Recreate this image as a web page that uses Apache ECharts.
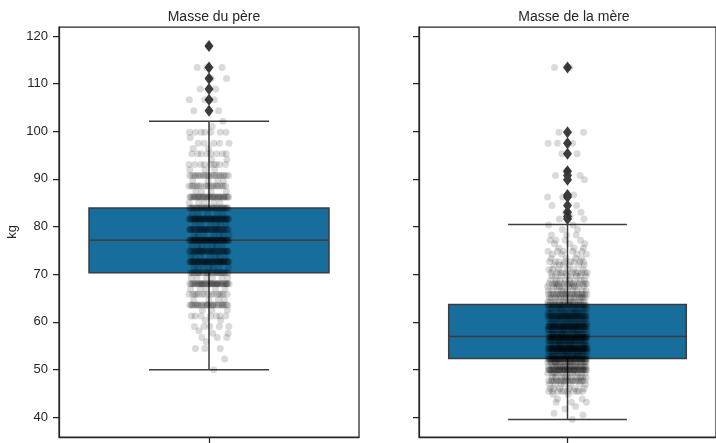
<!DOCTYPE html>
<html>
<head>
<meta charset="utf-8">
<script src="https://cdn.jsdelivr.net/npm/echarts@6/dist/echarts.min.js"></script>
<style>
html,body{margin:0;padding:0;background:#fff;}
#chart{width:716px;height:443px;}
</style>
</head>
<body>
<div id="chart"></div>
<script>
// ---------- data (kg) ----------
const panelTitles = ['Masse du père', 'Masse de la mère'];
const yAxisName = 'kg';
const yTicks = [40, 50, 60, 70, 80, 90, 100, 110, 120];

// box stats: [lower whisker, Q1, median, Q3, upper whisker]
const fatherBox = [49.9, 70.3, 77.1, 83.9, 102.1];
const motherBox = [39.5, 52.3, 56.9, 63.6, 80.4];

const fatherFliers = [104.3, 106.6, 108.9, 111.1, 113.4, 117.9];
const motherFliers = [113.4, 99.8, 97.5, 95.3, 91.6, 90.7, 89.8, 86.6, 86.2, 84.4, 83.0, 82.1, 81.6];

// strip points: observed value levels and number of points at each level
const fatherLevels = [49.9, 52.2, 54.4, 55.8, 56.7, 57.6, 58.1, 59.0, 60.3, 61.2, 62.4, 63.5, 64.6, 65.8, 66.9, 68.0, 69.2, 70.3, 71.4, 72.6, 73.7, 74.8, 75.9, 77.1, 78.2, 79.4, 80.5, 81.6, 82.7, 83.9, 85.0, 86.2, 87.3, 88.5, 89.6, 90.7, 91.9, 93.0, 94.1, 95.3, 96.4, 97.5, 98.7, 99.8, 101.0, 102.1, 104.3, 106.6, 108.9, 111.1, 113.4, 117.9];
const fatherCounts = [1, 1, 3, 1, 3, 2, 1, 5, 2, 7, 3, 26, 4, 15, 5, 38, 6, 26, 7, 50, 7, 38, 7, 55, 7, 38, 6, 50, 5, 34, 5, 34, 4, 19, 4, 21, 3, 9, 2, 8, 2, 5, 1, 7, 1, 1, 2, 3, 2, 2, 3, 1];

const motherLevels = [39.5, 40.4, 40.8, 41.7, 42.2, 43.1, 43.8, 44.7, 45.4, 46.0, 46.9, 47.6, 48.3, 49.2, 49.9, 50.6, 51.5, 52.2, 52.8, 53.8, 54.4, 55.1, 56.0, 56.7, 57.4, 58.3, 59.0, 59.6, 60.6, 61.2, 61.9, 62.8, 63.5, 64.2, 65.1, 65.8, 66.5, 67.4, 68.0, 68.7, 69.6, 70.3, 71.0, 71.9, 72.6, 73.3, 74.2, 74.8, 75.5, 76.4, 77.1, 78.2, 79.4, 80.3, 81.6, 82.1, 83.0, 84.4, 86.2, 86.6, 89.8, 90.7, 91.6, 95.3, 97.5, 99.8, 113.4];
const motherCounts = [1, 1, 1, 1, 1, 3, 2, 2, 10, 6, 7, 20, 10, 14, 40, 20, 24, 48, 24, 28, 52, 24, 28, 48, 24, 24, 42, 20, 21, 35, 17, 17, 28, 14, 14, 21, 10, 10, 16, 8, 8, 11, 6, 6, 8, 4, 4, 5, 3, 3, 4, 3, 2, 2, 2, 1, 2, 2, 2, 1, 1, 2, 1, 2, 3, 2, 2];

// ---------- build ----------
const JITTER = 0.067;
function stripPoints(levels, counts) {
  const pts = [];
  levels.forEach(function (v, li) {
    for (let k = 0; k < counts[li]; k++) {
      const f = ((k + 1) * 0.61803398875 + li * 0.2718) % 1;
      pts.push([(f * 2 - 1) * JITTER, v]);
    }
  });
  return pts;
}

const FONT = "'Liberation Sans', Arial, sans-serif";
const TXT = '#262626';
const EDGE = '#3d3d3d';
const BOXFILL = '#176d9c';
const YMIN = 35.8, YMAX = 121.9;

function renderBox(params, api) {
  const lo = api.value(1), q1 = api.value(2), med = api.value(3), q3 = api.value(4), hi = api.value(5);
  const c = api.coord([0, med]);
  const left = api.coord([-0.4, q3]);
  const right = api.coord([0.4, q1]);
  const capL = api.coord([-0.2, lo])[0], capR = api.coord([0.2, lo])[0];
  const yLo = api.coord([0, lo])[1], yHi = api.coord([0, hi])[1];
  const yQ1 = right[1], yQ3 = left[1];
  const ls = { stroke: EDGE, lineWidth: 1.5 };
  return {
    type: 'group',
    children: [
      { type: 'line', shape: { x1: c[0], y1: yQ1, x2: c[0], y2: yLo }, style: ls },
      { type: 'line', shape: { x1: c[0], y1: yQ3, x2: c[0], y2: yHi }, style: ls },
      { type: 'line', shape: { x1: capL, y1: yLo, x2: capR, y2: yLo }, style: ls },
      { type: 'line', shape: { x1: capL, y1: yHi, x2: capR, y2: yHi }, style: ls },
      { type: 'rect', shape: { x: left[0], y: yQ3, width: right[0] - left[0], height: yQ1 - yQ3 },
        style: { fill: BOXFILL, stroke: EDGE, lineWidth: 1.5 } },
      { type: 'line', shape: { x1: left[0], y1: c[1], x2: right[0], y2: c[1] }, style: ls }
    ]
  };
}

const grids = [
  { left: 59, top: 27, width: 300, height: 410, show: true, borderColor: TXT, borderWidth: 1.25, backgroundColor: 'transparent' },
  { left: 419, top: 27, width: 300, height: 410, show: true, borderColor: TXT, borderWidth: 1.25, backgroundColor: 'transparent' }
];

const xAxes = [0, 1].map(function (i) {
  return {
    type: 'value', gridIndex: i, min: -0.5, max: 0.5,
    splitLine: { show: false },
    axisLine: { show: true, onZero: false, lineStyle: { color: TXT, width: 1.25 } },
    axisTick: { show: true, length: 6, lineStyle: { color: TXT, width: 1.25 }, customValues: [0] },
    axisLabel: { show: false }
  };
});

const yAxes = [0, 1].map(function (i) {
  return {
    type: 'value', gridIndex: i, min: YMIN, max: YMAX,
    splitLine: { show: false },
    axisLine: { show: true, onZero: false, lineStyle: { color: TXT, width: 1.25 } },
    axisTick: { show: true, length: 6, lineStyle: { color: TXT, width: 1.25 }, customValues: yTicks },
    axisLabel: { show: i === 0, customValues: yTicks, color: TXT, fontSize: 13, fontFamily: FONT, margin: 11 }
  };
});

const boxes = [fatherBox, motherBox];
const fliers = [fatherFliers, motherFliers];
const strips = [stripPoints(fatherLevels, fatherCounts), stripPoints(motherLevels, motherCounts)];

const series = [];
[0, 1].forEach(function (i) {
  series.push({
    type: 'custom', xAxisIndex: i, yAxisIndex: i, z: 1,
    renderItem: renderBox,
    data: [[0].concat(boxes[i])],
    silent: true
  });
  series.push({
    type: 'scatter', xAxisIndex: i, yAxisIndex: i, z: 2,
    symbol: 'diamond', symbolSize: [9, 12],
    itemStyle: { color: EDGE, opacity: 1 },
    data: fliers[i].map(function (v) { return [0, v]; }),
    silent: true
  });
  series.push({
    type: 'scatter', xAxisIndex: i, yAxisIndex: i, z: 3,
    symbol: 'circle', symbolSize: 7,
    itemStyle: { color: 'rgba(0,0,0,0.18)' },
    progressive: 0, large: false,
    data: strips[i],
    silent: true
  });
});

const chart = echarts.init(document.getElementById('chart'), null, { renderer: 'canvas' });
chart.setOption({
  animation: false,
  backgroundColor: '#ffffff',
  textStyle: { fontFamily: FONT },
  title: [
    { text: panelTitles[0], left: 209, top: 5, textAlign: 'center', textStyle: { fontSize: 14, fontWeight: 'normal', color: TXT, fontFamily: FONT } },
    { text: panelTitles[1], left: 569, top: 5, textAlign: 'center', textStyle: { fontSize: 14, fontWeight: 'normal', color: TXT, fontFamily: FONT } }
  ],
  graphic: [
    { type: 'text', x: 12, y: 232, rotation: Math.PI / 2,
      style: { text: yAxisName, fill: TXT, font: '13px ' + FONT, textAlign: 'center', textVerticalAlign: 'middle' } }
  ],
  grid: grids,
  xAxis: xAxes,
  yAxis: yAxes,
  series: series
});
</script>
</body>
</html>
